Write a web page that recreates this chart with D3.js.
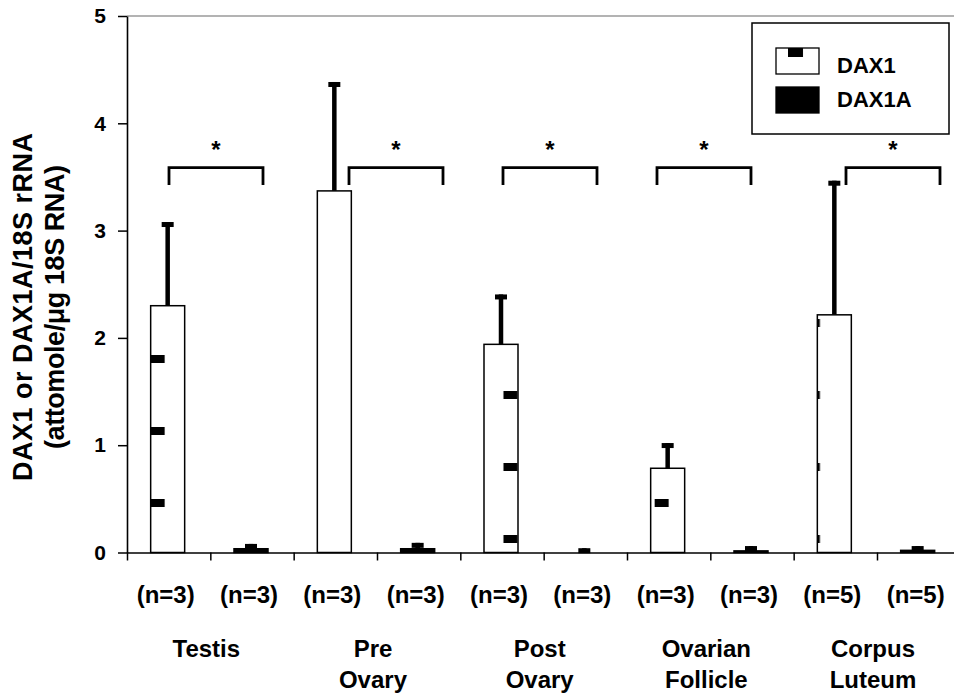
<!DOCTYPE html>
<html>
<head>
<meta charset="utf-8">
<script src="https://cdn.jsdelivr.net/npm/d3@7"></script>
<style>
  html, body { margin: 0; padding: 0; background: #fff; }
  svg { display: block; font-family: "Liberation Sans", Arial, sans-serif; font-weight: bold; }
</style>
</head>
<body>
<svg id="chart" width="954" height="700"></svg>
<script>
// ---------------- data ----------------
const groups = ["Testis", "Pre Ovary", "Post Ovary", "Ovarian Follicle", "Corpus Luteum"];
const groupLines = [["Testis"], ["Pre", "Ovary"], ["Post", "Ovary"], ["Ovarian", "Follicle"], ["Corpus", "Luteum"]];
const seriesNames = ["DAX1", "DAX1A"];
const dax1Mean = [2.30, 3.37, 1.94, 0.785, 2.215];
const dax1Sem  = [0.78, 1.015, 0.465, 0.235, 1.25];
const dax1aMean = [0.035, 0.035, 0.0, 0.015, 0.02];
const dax1aSem  = [0.045, 0.055, 0.04, 0.045, 0.04];
const nDax1  = ["(n=3)", "(n=3)", "(n=3)", "(n=3)", "(n=5)"];
const nDax1a = ["(n=3)", "(n=3)", "(n=3)", "(n=3)", "(n=5)"];
const yTicks = [0, 1, 2, 3, 4, 5];
const yTitle = ["DAX1 or DAX1A/18S rRNA", "(attomole/\u03bcg 18S RNA)"];
// significance brackets: start position in bar-slot units, span, and levels in data units
const bracketStart = [0.504, 2.664, 4.512, 6.36, 8.628];
const bracketSpan = 1.128;
const bracketTop = 3.586, bracketLeg = 3.425, starLevel = 3.80;

// ---------------- layout ----------------
const svg = d3.select("#chart");
const x0 = 127, slot = 83.333;
const nSlots = groups.length * 2;
const y = d3.scaleLinear().domain([0, 5]).range([552.5, 16]);
const xs = d3.scaleLinear().domain([0, nSlots]).range([x0, x0 + slot * nSlots]);
const slotKeys = d3.range(nSlots);
const xb = d3.scaleBand().domain(slotKeys).range([x0 - 1, x0 - 1 + slot * nSlots])
  .paddingInner(0.592).paddingOuter(0.296);

// pattern for DAX1 fill (sparse black dashes)
const defs = svg.append("defs");
function makePattern(id, ox, oy, mw, mh) {
  const pw = 100.8, ph = 72;
  const p = defs.append("pattern").attr("id", id).attr("patternUnits", "userSpaceOnUse")
    .attr("x", ox).attr("y", oy).attr("width", pw).attr("height", ph);
  p.append("rect").attr("width", pw).attr("height", ph).attr("fill", "#fff");
  p.append("rect").attr("x", 0).attr("y", 0).attr("width", mw).attr("height", mh).attr("fill", "#000");
  p.append("rect").attr("x", pw / 2).attr("y", ph / 2).attr("width", mw).attr("height", mh).attr("fill", "#000");
}
makePattern("patBar", xb(0), 355, 14, 8);
makePattern("patLeg", 788, 48, 15, 9);

// top grey frame line
svg.append("line").attr("x1", x0).attr("x2", 954).attr("y1", y(5)).attr("y2", y(5))
  .attr("stroke", "#9a9a9a").attr("stroke-width", 1.5);

// rows of bar data
const rows = [];
groups.forEach((g, i) => {
  rows.push({slot: 2 * i, v: dax1Mean[i], e: dax1Sem[i], s: 0, n: nDax1[i]});
  rows.push({slot: 2 * i + 1, v: dax1aMean[i], e: dax1aSem[i], s: 1, n: nDax1a[i]});
});

// error bars (drawn first, bars on top)
const capW = 12, capH = 5, stemW = 4.5;
const eb = svg.append("g");
eb.selectAll("rect.stem").data(rows).join("rect").attr("class", "stem")
  .attr("x", d => xb(d.slot) + xb.bandwidth() / 2 - stemW / 2)
  .attr("y", d => y(d.v + d.e))
  .attr("width", stemW)
  .attr("height", d => y(d.v) - y(d.v + d.e))
  .attr("fill", "#000");
eb.selectAll("rect.cap").data(rows).join("rect").attr("class", "cap")
  .attr("x", d => xb(d.slot) + xb.bandwidth() / 2 - capW / 2)
  .attr("y", d => y(d.v + d.e))
  .attr("width", capW)
  .attr("height", capH)
  .attr("fill", "#000");

// bars
svg.append("g").selectAll("rect").data(rows).join("rect")
  .attr("x", d => xb(d.slot))
  .attr("y", d => y(d.v))
  .attr("width", xb.bandwidth())
  .attr("height", d => y(0) - y(d.v))
  .attr("fill", d => d.s === 0 ? "url(#patBar)" : "#000")
  .attr("stroke", "#000").attr("stroke-width", 1.5);

// y axis
const yAxis = svg.append("g").attr("transform", `translate(${x0},0)`)
  .call(d3.axisLeft(y).tickValues(yTicks).tickFormat(d3.format("d")).tickSize(9).tickSizeOuter(0).tickPadding(12));
yAxis.select(".domain").attr("stroke", "#000").attr("stroke-width", 1.6);
yAxis.selectAll(".tick line").attr("stroke", "#000").attr("stroke-width", 1.5);
yAxis.selectAll(".tick text").attr("font-size", 21).attr("font-weight", "bold")
  .attr("font-family", "Liberation Sans, Arial, sans-serif").attr("fill", "#000");

// x axis
const xAxis = svg.append("g").attr("transform", `translate(0,${y(0)})`)
  .call(d3.axisBottom(xs).tickValues(d3.range(0, nSlots + 1)).tickFormat("").tickSize(8).tickSizeOuter(0));
xAxis.select(".domain").attr("stroke", "#000").attr("stroke-width", 1.6);
xAxis.selectAll(".tick line").attr("stroke", "#000").attr("stroke-width", 1.5);

// n labels
svg.append("g").selectAll("text").data(rows).join("text")
  .attr("x", d => xs(d.slot + 0.5) - 3)
  .attr("y", 603)
  .attr("text-anchor", "middle")
  .attr("font-size", 24)
  .text(d => d.n);

// group labels
const gl = svg.append("g").selectAll("text").data(groupLines).join("text")
  .attr("text-anchor", "middle")
  .attr("font-size", 24);
gl.each(function (lines, i) {
  d3.select(this).selectAll("tspan").data(lines).join("tspan")
    .attr("x", xs(2 * i + 1) - 4)
    .attr("y", (l, j) => 657 + j * 31)
    .text(l => l);
});

// significance brackets
const br = svg.append("g").attr("fill", "none").attr("stroke", "#000").attr("stroke-width", 2.8);
br.selectAll("path").data(bracketStart).join("path")
  .attr("d", s => `M${xs(s)},${y(bracketLeg)}V${y(bracketTop)}H${xs(s + bracketSpan)}V${y(bracketLeg)}`);
svg.append("g").selectAll("text").data(bracketStart).join("text")
  .attr("x", s => xs(s + bracketSpan / 2))
  .attr("y", y(starLevel) + 13)
  .attr("text-anchor", "middle")
  .attr("font-size", 24)
  .text("*");

// y title
const yt = svg.append("text").attr("transform", "translate(32,307) rotate(-90)")
  .attr("text-anchor", "middle").attr("font-size", 27);
yt.append("tspan").attr("x", 0).attr("y", 0).attr("textLength", 348).text(yTitle[0]);
yt.append("tspan").attr("x", 0).attr("y", 32).attr("textLength", 284).text(yTitle[1]);

// legend
const lg = svg.append("g");
lg.append("rect").attr("x", 752).attr("y", 23).attr("width", 197).attr("height", 111)
  .attr("fill", "#fff").attr("stroke", "#000").attr("stroke-width", 1.5);
const legendFill = ["url(#patLeg)", "#000"];
lg.selectAll("rect.sw").data(seriesNames).join("rect").attr("class", "sw")
  .attr("x", 776).attr("y", (d, i) => 48 + i * 39)
  .attr("width", 43).attr("height", 26)
  .attr("fill", (d, i) => legendFill[i]).attr("stroke", "#000").attr("stroke-width", 1.3);
lg.selectAll("text").data(seriesNames).join("text")
  .attr("x", 837).attr("y", (d, i) => 73 + i * 34)
  .attr("font-size", 22)
  .text(d => d);
</script>
</body>
</html>
